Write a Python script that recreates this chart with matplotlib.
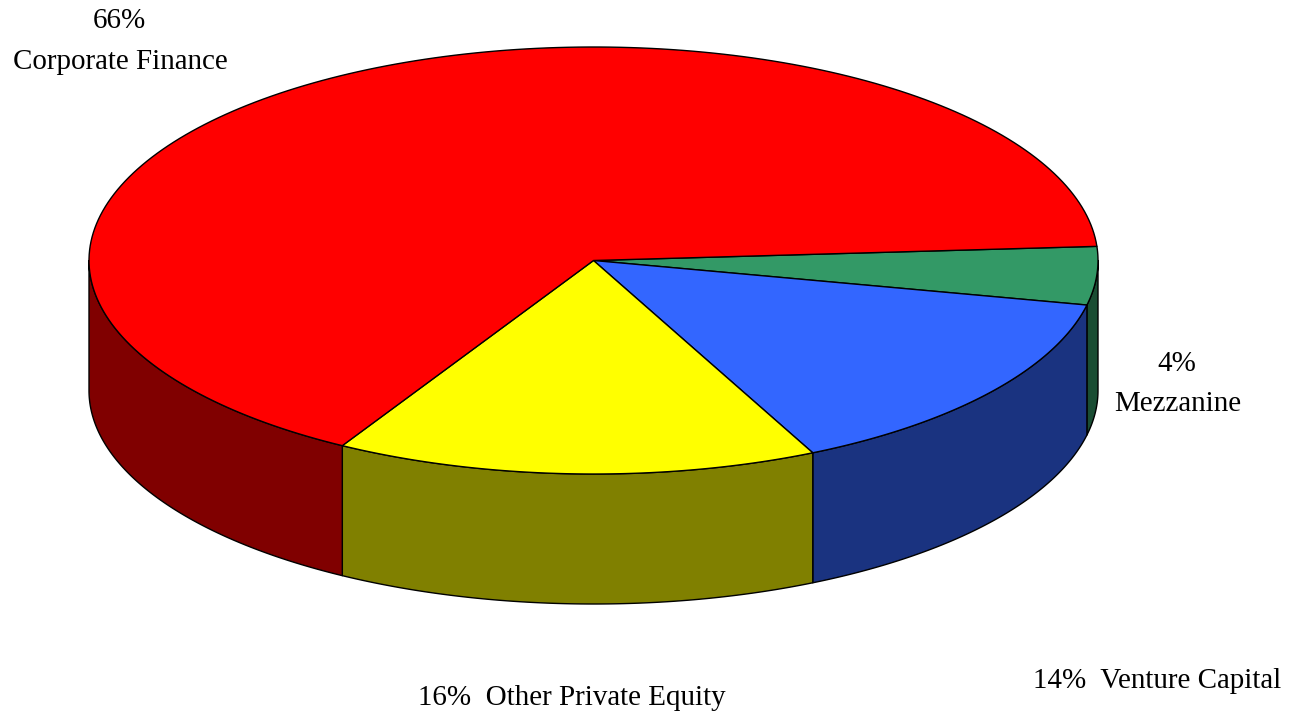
import numpy as np
import matplotlib
matplotlib.use('Agg')
import matplotlib.pyplot as plt
from matplotlib.patches import Polygon

plt.rcParams['font.family'] = ['Liberation Serif', 'DejaVu Serif']

# shares, clockwise from the red/green boundary
names = ['Mezzanine', 'Venture Capital', 'Other Private Equity', 'Corporate Finance']
shares = [4.4, 14.5, 15.45, 65.65]
shown = [4, 14, 16, 66]
top_colors = ['#339966', '#3366FF', '#FFFF00', '#FF0000']
side_colors = ['#1A4D33', '#1A3380', '#808000', '#800000']

start_angle = 3.8
cx, cy = 593.5, 260.5
rx, ry = 504.5, 213.5
depth = 130


def rim(a0, a1):
    t = np.radians(np.linspace(a0, a1, 200))
    return np.column_stack([cx + rx * np.cos(t), cy - ry * np.sin(t)])


fig = plt.figure(figsize=(12.9, 7.13), dpi=100)
ax = fig.add_axes([0, 0, 1, 1])
ax.set_xlim(0, 1290)
ax.set_ylim(713, 0)
ax.axis('off')

edges = start_angle - np.cumsum([0] + shares) * 3.6

# walls first, only the part of each slice facing the viewer
for i in range(len(shares)):
    a0 = min(edges[i], 0)
    a1 = max(edges[i + 1], -180)
    if a0 <= a1:
        continue
    upper = rim(a0, a1)
    lower = upper[::-1] + [0, depth]
    ax.add_patch(Polygon(np.vstack([upper, lower]), closed=True, fc=side_colors[i],
                         ec='black', lw=1, joinstyle='round'))

# top of the pie
for i in range(len(shares)):
    pts = np.vstack([[cx, cy], rim(edges[i], edges[i + 1])])
    ax.add_patch(Polygon(pts, closed=True, fc=top_colors[i], ec='black', lw=1,
                         joinstyle='round'))

fs = 20.9
ax.text(119, 21, f'{shown[3]}%', ha='center', va='center', fontsize=fs)
ax.text(120, 62, names[3], ha='center', va='center', fontsize=fs)
ax.text(1177, 364, f'{shown[0]}%', ha='center', va='center', fontsize=fs)
ax.text(1178, 404, names[0], ha='center', va='center', fontsize=fs)
ax.text(1157, 681, f'{shown[1]}%  {names[1]}', ha='center', va='center', fontsize=fs)
ax.text(572, 698, f'{shown[2]}%  {names[2]}', ha='center', va='center', fontsize=fs)

fig.savefig('out.png', dpi=100)
